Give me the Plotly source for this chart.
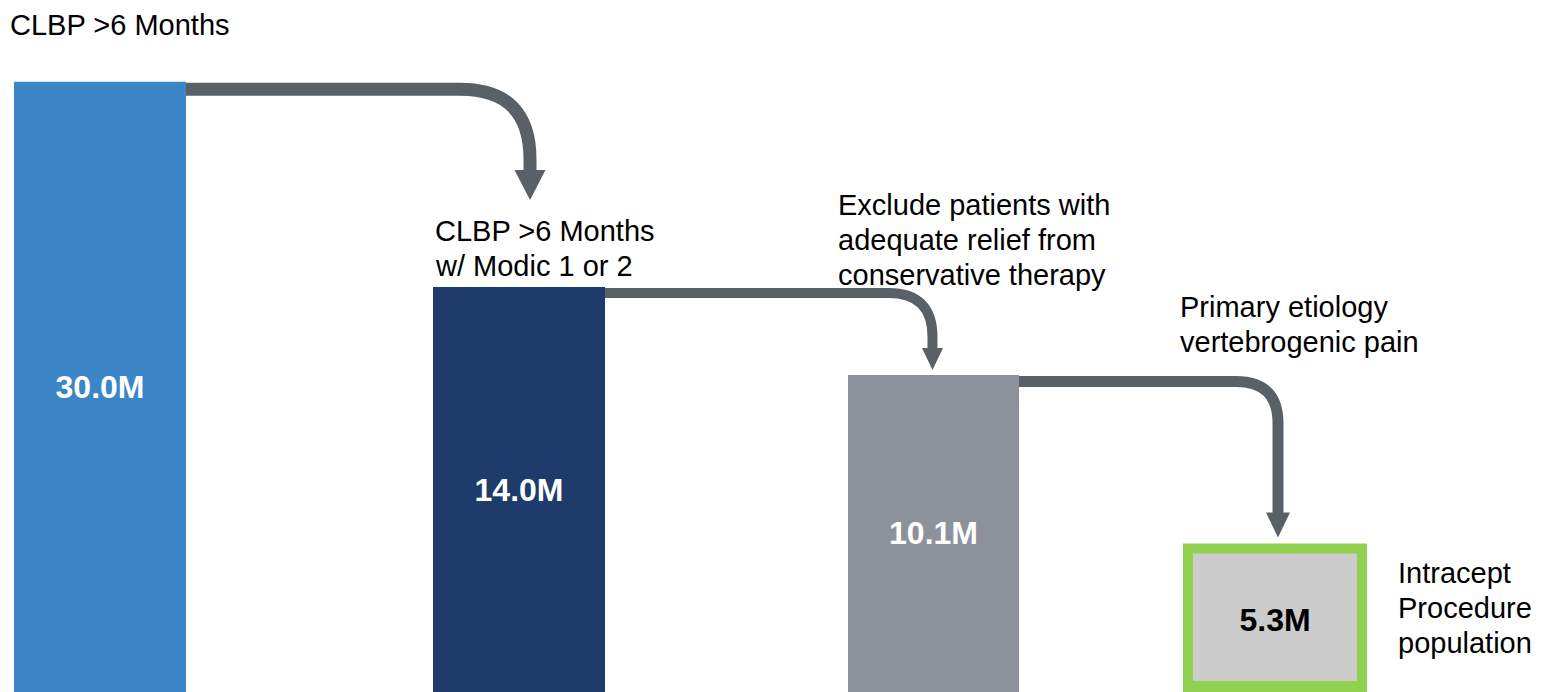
import plotly.graph_objects as go

# ---- data -------------------------------------------------------------
stage_notes = [
    ["CLBP >6 Months"],
    ["CLBP >6 Months", "w/ Modic 1 or 2"],
    ["Exclude patients with", "adequate relief from", "conservative therapy"],
    ["Primary etiology", "vertebrogenic pain"],
    ["Intracept", "Procedure", "population"],
]
patients_m = [30.0, 14.0, 10.1, 5.3]          # patients, millions

# ---- layout / style ----------------------------------------------------
W, H = 1543, 692
FONT = "Liberation Sans, Arial, sans-serif"
X_RANGE = [0, 15.43]                            # 1 unit = 100 px
Y_RANGE = [0.493, 1.609]                        # log10 of millions
PX_PER_DECADE = H / (Y_RANGE[1] - Y_RANGE[0])

stage_x = [1.00, 5.19, 9.335, 12.75]            # bar centres
bar_w = [1.72, 1.72, 1.71, 1.74]
bar_fill = ["#3C85C6", "#1F3B6B", "#8D919B", "#CCCCCC"]
bar_edge = ["#3C85C6", "#1F3B6B", "#8D919B", "#92D050"]
bar_edge_w = [0, 0, 0, 10]
label_color = ["white", "white", "white", "black"]
HIGHLIGHT = "#92D050"

ARROW = "#5A6068"
arrow_x = [5.30, 9.325, 12.78]                  # vertical leg of each connector
arrow_lw = [13, 10, 11]                         # stroke width, px
arrow_r = [70, 44, 42]                          # corner radius, px
arrow_gap = [87, 5, 11]                         # tip clearance above next bar, px
head_w = [31, 21, 24]
head_h = [30, 22, 25]

# note placement: left edge and centre of first line, in px
note_pos = [(8, 25), (433, 231), (836, 205), (1178, 307), (1396, 573)]
NOTE_SIZE = 29
LINE_STEP = 35


def down(v, px):
    """Value that sits `px` pixels below v on the log axis."""
    return v * 10 ** (-px / PX_PER_DECADE)


fig = go.Figure()
fig.add_trace(go.Bar(
    x=stage_x,
    y=patients_m,
    width=bar_w,
    marker=dict(color=bar_fill, line=dict(color=bar_edge, width=bar_edge_w)),
    texttemplate="<b>%{y:.1f}M</b>",
    textposition="inside",
    insidetextanchor="middle",
    textangle=0,
    insidetextfont=dict(family=FONT, size=32, color=label_color),
    hoverinfo="skip",
))

shapes = []
for i in range(3):
    v0, v1 = patients_m[i], patients_m[i + 1]
    x0 = stage_x[i] + bar_w[i] / 2
    xc = arrow_x[i]
    r = arrow_r[i]
    y_line = down(v0, arrow_lw[i] / 2 + 1)
    xb = xc - r / 100
    y_q = down(y_line, r)
    tip = v1 * 10 ** (arrow_gap[i] / PX_PER_DECADE)
    base = tip * 10 ** (head_h[i] / PX_PER_DECADE)
    y_end = down(base, 4)
    shapes.append(dict(
        type="path", xref="x", yref="y", layer="above",
        path=f"M {x0},{y_line} H {xb} Q {xc},{y_line} {xc},{y_q} V {y_end}",
        line=dict(color=ARROW, width=arrow_lw[i]),
        fillcolor="rgba(0,0,0,0)",
    ))
    hw = head_w[i] / 200
    shapes.append(dict(
        type="path", xref="x", yref="y", layer="above",
        path=f"M {xc - hw},{base} L {xc + hw},{base} L {xc},{tip} Z",
        line=dict(width=0),
        fillcolor=ARROW,
    ))

# bottom edge of the highlight frame around the last bar
edge = bar_edge_w[3] / 200
shapes.append(dict(
    type="rect", xref="x", yref="paper", layer="above",
    x0=stage_x[3] - bar_w[3] / 2 - edge, x1=stage_x[3] + bar_w[3] / 2 + edge,
    y0=0, y1=11 / H,
    line=dict(width=0), fillcolor=HIGHLIGHT,
))

annotations = []
for lines, (px, py) in zip(stage_notes, note_pos):
    for j, line in enumerate(lines):
        annotations.append(dict(
            text=line, xref="paper", yref="paper",
            x=px / W, y=1 - (py + j * LINE_STEP) / H,
            xanchor="left", yanchor="middle", align="left", showarrow=False,
            font=dict(family=FONT, size=NOTE_SIZE, color="black"),
        ))

fig.update_layout(
    width=W, height=H,
    margin=dict(l=0, r=0, t=0, b=0),
    paper_bgcolor="white", plot_bgcolor="white",
    showlegend=False,
    xaxis=dict(range=X_RANGE, visible=False, fixedrange=True),
    yaxis=dict(type="log", range=Y_RANGE, visible=False, fixedrange=True),
    shapes=shapes,
    annotations=annotations,
)

fig.write_html("out.html")
